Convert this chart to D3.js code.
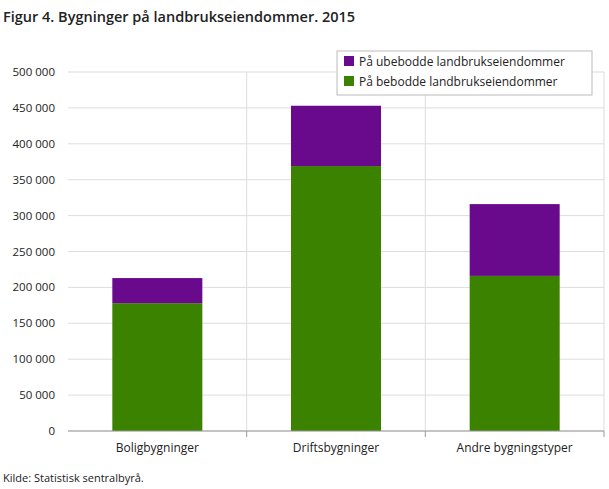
<!DOCTYPE html>
<html><head><meta charset="utf-8">
<script src="https://cdn.jsdelivr.net/npm/d3@7"></script>
<style>body{margin:0;background:#fff;font-family:"Open Sans",sans-serif;}</style>
</head><body><svg id="chart" width="609" height="489"></svg>
<script>
// Data
var categories = ["Boligbygninger", "Driftsbygninger", "Andre bygningstyper"];
var bebodde = [178000, 369000, 216000];
var ubebodde = [35000, 84000, 100000];
var seriesNames = ["På bebodde landbrukseiendommer", "På ubebodde landbrukseiendommer"];
var colors = ["#3a8200", "#690a8c"];

var svg = d3.select("#chart");
var plotLeft = 68, plotRight = 604, plotTop = 72, plotBottom = 431;

svg.append("text").attr("x", 3).attr("y", 22).attr("font-size", 14.5).attr("font-weight", 600)
  .attr("fill", "#222").text("Figur 4. Bygninger på landbrukseiendommer. 2015");
svg.append("text").attr("x", 3).attr("y", 482).attr("font-size", 11).attr("fill", "#222")
  .text("Kilde: Statistisk sentralbyrå.");

var x = d3.scaleBand().domain(categories).range([plotLeft, plotRight]);
var y = d3.scaleLinear().domain([0, 500000]).range([plotBottom, plotTop]);
var fmt = d => d3.format(",")(d).replace(/,/g, "\u00a0");

// horizontal grid
svg.append("g").selectAll("line").data(y.ticks(10)).join("line")
  .attr("x1", plotLeft).attr("x2", plotRight).attr("y1", d => y(d)).attr("y2", d => y(d))
  .attr("stroke", "#ddd");
// vertical category separators
svg.append("g").selectAll("line").data(categories.slice(1).concat([null])).join("line")
  .attr("x1", d => d ? x(d) : plotRight).attr("x2", d => d ? x(d) : plotRight)
  .attr("y1", plotTop).attr("y2", plotBottom).attr("stroke", "#ddd");

svg.append("g").selectAll("text").data(y.ticks(10)).join("text")
  .attr("x", 55).attr("y", d => y(d) + 4).attr("text-anchor", "end")
  .attr("font-size", 11.5).attr("fill", "#222").text(fmt);

var bw = 90;
var stack = categories.map((c, i) => ({c: c, a: bebodde[i], b: ubebodde[i]}));
var g = svg.append("g");
g.selectAll(".g").data(stack).join("rect")
  .attr("x", d => x(d.c) + x.bandwidth() / 2 - bw / 2).attr("width", bw)
  .attr("y", d => y(d.a)).attr("height", d => y(0) - y(d.a)).attr("fill", colors[0]);
g.selectAll(".p").data(stack).join("rect")
  .attr("x", d => x(d.c) + x.bandwidth() / 2 - bw / 2).attr("width", bw)
  .attr("y", d => y(d.a + d.b)).attr("height", d => y(d.a) - y(d.a + d.b)).attr("fill", colors[1]);

svg.append("line").attr("x1", plotLeft).attr("x2", plotRight).attr("y1", plotBottom).attr("y2", plotBottom).attr("stroke", "#999");
svg.append("g").selectAll("line").data(categories.slice(1).concat([null])).join("line")
  .attr("x1", d => d ? x(d) : plotRight).attr("x2", d => d ? x(d) : plotRight)
  .attr("y1", plotBottom).attr("y2", plotBottom + 6).attr("stroke", "#999");
svg.append("g").selectAll("text").data(categories).join("text")
  .attr("x", d => x(d) + x.bandwidth() / 2).attr("y", 452).attr("text-anchor", "middle")
  .attr("font-size", 12).attr("fill", "#222").text(d => d);

// legend
var lg = svg.append("g");
lg.append("rect").attr("x", 337).attr("y", 51).attr("width", 255).attr("height", 44)
  .attr("fill", "#fff").attr("stroke", "#bbb");
[1, 0].forEach((s, i) => {
  lg.append("rect").attr("x", 344).attr("y", 56 + i * 20).attr("width", 10).attr("height", 10).attr("fill", colors[s]);
  lg.append("text").attr("x", 359).attr("y", 66 + i * 20).attr("font-size", 12).attr("fill", "#222").text(seriesNames[s]);
});
</script></body></html>
